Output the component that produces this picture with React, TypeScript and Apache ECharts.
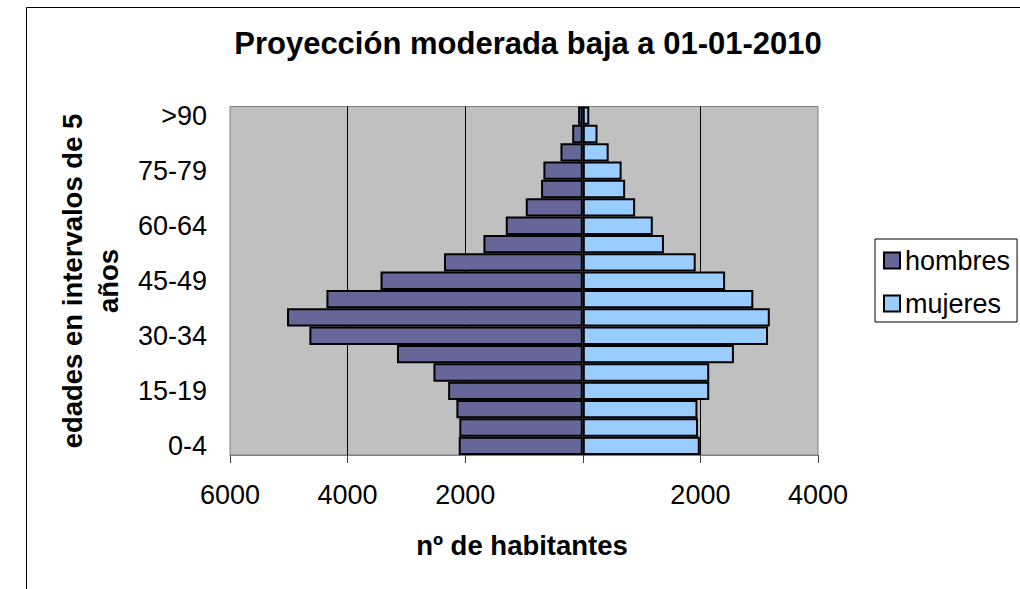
import React, { useEffect, useRef } from "react";
import * as echarts from "echarts";

const categories = [
  "0-4", "5-9", "10-14", "15-19", "20-24", "25-29", "30-34", "35-39", "40-44",
  "45-49", "50-54", "55-59", "60-64", "65-69", "70-74", "75-79", "80-84", "85-89", ">90",
];
const hombres = [2110, 2100, 2150, 2290, 2540, 3160, 4650, 5030, 4360, 3440, 2360, 1690, 1310, 970, 710, 670, 380, 180, 80];
const mujeres = [1990, 1960, 1950, 2150, 2150, 2570, 3150, 3180, 2900, 2420, 1920, 1380, 1190, 890, 720, 660, 440, 250, 110];
const xTicks = { min: -6000, max: 4000, interval: 2000 };
const titleText = "Proyección moderada baja a 01-01-2010";
const xTitle = "nº de habitantes";
const yTitle = "edades en intervalos de 5\naños";
const seriesNames = ["hombres", "mujeres"];
const colors = ["#666699", "#99CCFF"];

const FONT = '"Liberation Sans", Arial, sans-serif';

export default function App() {
  const ref = useRef<HTMLDivElement>(null);
  useEffect(() => {
    if (!ref.current) return;
    const chart = echarts.init(ref.current, undefined, { renderer: "svg" });
    chart.setOption({
      animation: false,
      textStyle: { fontFamily: FONT, color: "#000" },
      title: {
        text: titleText,
        left: 528,
        textAlign: "center",
        top: 28,
        padding: 0,
        textStyle: { fontSize: 31, fontWeight: "bold", color: "#000", fontFamily: FONT },
      },
      legend: {
        data: seriesNames,
        orient: "vertical",
        left: 875,
        top: 239,
        padding: [8, 7, 5, 8],
        borderColor: "#000",
        borderWidth: 1,
        itemWidth: 16,
        itemHeight: 16,
        itemGap: 16,
        icon: "rect",
        textStyle: { fontSize: 27, color: "#000", fontFamily: FONT },
      },
      grid: {
        left: 230,
        right: 202,
        top: 106.5,
        bottom: 134,
        show: true,
        backgroundColor: "#c0c0c0",
        borderColor: "#808080",
        borderWidth: 1,
        containLabel: false,
      },
      xAxis: {
        type: "value",
        min: xTicks.min,
        max: xTicks.max,
        interval: xTicks.interval,
        axisLine: { show: true, lineStyle: { color: "#808080", width: 1 } },
        axisTick: { show: true, length: 8, lineStyle: { color: "#404040" } },
        axisLabel: {
          fontSize: 27,
          color: "#000",
          margin: 26,
          fontFamily: FONT,
          formatter: (v: number) => (v === 0 ? "" : String(Math.abs(v))),
        },
        splitLine: {
          show: true,
          showMinLine: false,
          showMaxLine: false,
          lineStyle: { color: "#000", width: 1 },
        },
      },
      yAxis: {
        type: "category",
        data: categories,
        axisLine: { show: false, onZero: false },
        axisTick: { show: false },
        axisLabel: { interval: 2, fontSize: 27, color: "#000", margin: 23, fontFamily: FONT },
        splitLine: { show: false },
      },
      series: [
        {
          name: seriesNames[0],
          type: "bar",
          data: hombres.map((v) => -v),
          barCategoryGap: "0%",
          barGap: "-100%",
          itemStyle: { color: colors[0], borderColor: "#000", borderWidth: 2 },
        },
        {
          name: seriesNames[1],
          type: "bar",
          data: mujeres,
          barCategoryGap: "0%",
          barGap: "-100%",
          itemStyle: { color: colors[1], borderColor: "#000", borderWidth: 2 },
        },
      ],
      graphic: [
        {
          type: "rect",
          z: -10,
          silent: true,
          shape: { x: 26.5, y: 7.5, width: 1200, height: 800 },
          style: { fill: "none", stroke: "#000", lineWidth: 1 },
        },
        {
          type: "text",
          x: 522,
          y: 545,
          style: {
            text: xTitle,
            fill: "#000",
            font: `bold 27.5px ${FONT}`,
            align: "center",
            verticalAlign: "middle",
          },
        },
        {
          type: "text",
          x: 90,
          y: 281,
          rotation: Math.PI / 2,
          style: {
            text: yTitle,
            fill: "#000",
            font: `bold 27.5px ${FONT}`,
            align: "center",
            verticalAlign: "middle",
            lineHeight: 36,
          },
        },
      ],
    });
    return () => chart.dispose();
  }, []);
  return (
    <div
      ref={ref}
      style={{ position: "absolute", left: 0, top: 0, width: 1020, height: 589, background: "#fff" }}
    />
  );
}
